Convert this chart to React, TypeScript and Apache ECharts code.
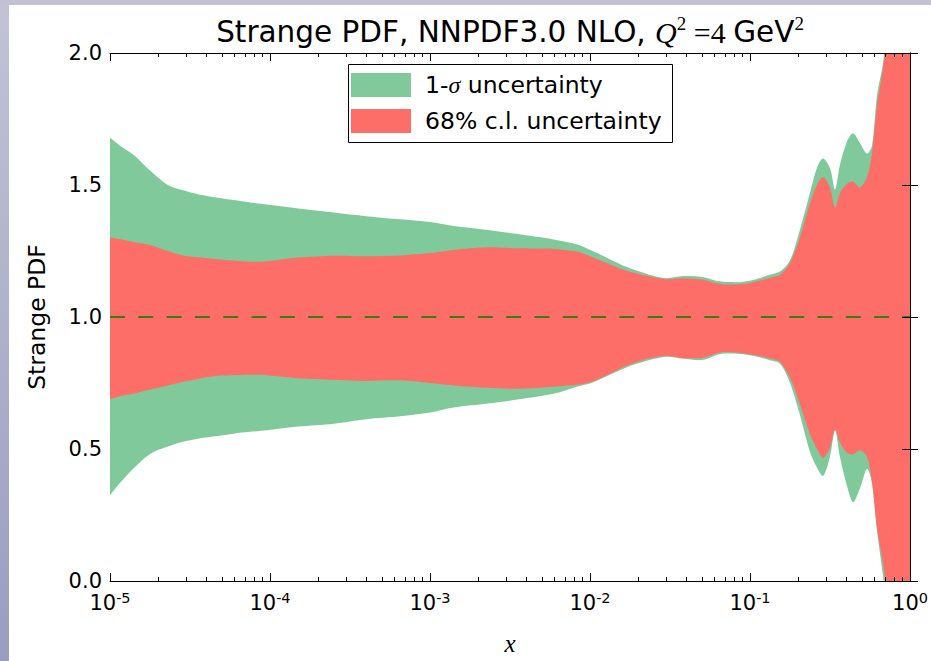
import React, { useEffect, useRef } from "react";
import * as echarts from "echarts";

// x sample points (momentum fraction)
const xValues = [
  1e-5, 1.15e-5, 1.4e-5, 1.8e-5, 2.3e-5, 2.9e-5, 3.6e-5, 4.7e-5, 5.9e-5, 7.5e-5, 9.6e-5,
  1.5e-4, 2.5e-4, 4.0e-4, 6.5e-4, 1.0e-3, 1.4e-3, 2.3e-3, 3.6e-3, 5.9e-3, 8.3e-3,
  1.04e-2, 1.33e-2, 1.7e-2, 2.3e-2, 3.0e-2, 3.8e-2, 5.1e-2, 6.5e-2, 8.7e-2,
  0.104, 0.133, 0.154, 0.178, 0.205, 0.237, 0.262, 0.286, 0.316, 0.34, 0.365,
  0.404, 0.441, 0.487, 0.539, 0.579, 0.622, 0.678, 0.708, 0.75, 1.0,
];

// 1-sigma band
const sigmaUpper = [
  1.68, 1.65, 1.615, 1.552, 1.5, 1.479, 1.464, 1.452, 1.443, 1.434, 1.426,
  1.411, 1.396, 1.382, 1.37, 1.36, 1.345, 1.33, 1.313, 1.294, 1.275,
  1.25, 1.219, 1.189, 1.162, 1.147, 1.155, 1.151, 1.135, 1.132,
  1.14, 1.16, 1.172, 1.215, 1.33, 1.47, 1.564, 1.6, 1.564, 1.483, 1.577,
  1.665, 1.696, 1.658, 1.619, 1.65, 1.84, 1.96, 2.08, 2.3, 3.5,
];
const sigmaLower = [
  0.325, 0.37, 0.426, 0.483, 0.509, 0.528, 0.54, 0.549, 0.558, 0.565, 0.571,
  0.585, 0.596, 0.613, 0.624, 0.638, 0.657, 0.672, 0.688, 0.709, 0.736,
  0.752, 0.781, 0.81, 0.835, 0.849, 0.842, 0.838, 0.86, 0.86,
  0.853, 0.836, 0.823, 0.75, 0.63, 0.49, 0.43, 0.398, 0.47, 0.57, 0.47,
  0.36, 0.298, 0.351, 0.425, 0.37, 0.19, 0.02, -0.08, -0.3, -1.5,
];

// 68% c.l. band
const clUpper = [
  1.302, 1.295, 1.284, 1.272, 1.25, 1.232, 1.226, 1.219, 1.214, 1.209, 1.211,
  1.225, 1.232, 1.23, 1.233, 1.242, 1.254, 1.264, 1.26, 1.258, 1.248,
  1.226, 1.2, 1.175, 1.155, 1.143, 1.147, 1.141, 1.125, 1.124,
  1.132, 1.148, 1.16, 1.205, 1.3, 1.43, 1.5, 1.53, 1.49, 1.415, 1.47,
  1.505, 1.513, 1.49, 1.53, 1.62, 1.8, 1.94, 2.05, 2.25, 3.4,
];
const clLower = [
  0.688, 0.7, 0.709, 0.726, 0.741, 0.755, 0.766, 0.777, 0.779, 0.781, 0.779,
  0.768, 0.762, 0.758, 0.76, 0.75, 0.741, 0.732, 0.728, 0.736, 0.743,
  0.756, 0.785, 0.816, 0.842, 0.853, 0.845, 0.846, 0.866, 0.864,
  0.857, 0.843, 0.83, 0.77, 0.67, 0.555, 0.5, 0.466, 0.505, 0.574, 0.525,
  0.485, 0.48, 0.495, 0.47, 0.375, 0.2, 0.07, -0.02, -0.2, -1.4,
];

const centralValue = 1.0;
const xMin = 1e-5;
const xMax = 1;
const yMin = 0;
const yMax = 2;
const yInterval = 0.5;
const decadeExponents = [-5, -4, -3, -2, -1];
const minorMultipliers = [2, 3, 4, 5, 6, 7, 8, 9];

const legendNames = ["1-\u03c3 uncertainty", "68% c.l. uncertainty"];
const GREEN = "#80c99b";
const RED = "#fe6e68";
const FONT = "DejaVu Sans";

const minorTickValues: number[] = [];
decadeExponents.forEach((e) => minorMultipliers.forEach((m) => minorTickValues.push(Math.log10(m) + e)));

function bandRenderer(upper: number[], lower: number[], color: string) {
  return (params: any, api: any) => {
    if (params.dataIndex !== 0) return null;
    const n = xValues.length;
    const top: number[][] = xValues.map((x, i) => api.coord([x, upper[i]]));
    const bottom: number[][] = xValues.map((x, i) => api.coord([x, lower[i]])).reverse();
    // corner points repeated so the smoothing keeps the end edges straight
    const pts = [top[0], ...top, top[n - 1], bottom[0], ...bottom, bottom[n - 1]];
    return {
      type: "polygon",
      shape: { points: pts, smooth: 0.3 },
      style: { fill: color },
    };
  };
}

export default function App() {
  const ref = useRef<HTMLDivElement>(null);
  useEffect(() => {
    const chart = echarts.init(ref.current!, null, { renderer: "svg" });
    const axisLineStyle = { color: "#000", width: 1 };
    const option: any = {
      animation: false,
      textStyle: { fontFamily: FONT },
      grid: { left: 110, right: 21, top: 53, bottom: 78, containLabel: false },
      legend: {
        data: legendNames,
        orient: "vertical",
        left: 351,
        top: 73,
        padding: 0,
        itemWidth: 60,
        itemHeight: 24,
        itemGap: 12,
        icon: "rect",
        selectedMode: false,
        formatter: (name: string) =>
          name === legendNames[0] ? "1-{g|\u03c3} uncertainty" : name,
        textStyle: {
          fontSize: 23.5,
          color: "#000",
          fontFamily: FONT,
          padding: [0, 0, 0, 9],
          rich: {
            g: { fontSize: 24, fontFamily: "Liberation Serif", fontStyle: "italic", color: "#000" },
          },
        },
      },
      graphic: [
        {
          type: "rect",
          z: 0,
          shape: { x: 0, y: 0, width: 9, height: 661 },
          style: {
            fill: new echarts.graphic.LinearGradient(0, 0, 0, 1, [
              { offset: 0, color: "#c3c3d5" },
              { offset: 1, color: "#9b9dc0" },
            ]),
          },
        },
        { type: "rect", z: 0, shape: { x: 0, y: 0, width: 931, height: 5 }, style: { fill: "#c1c1d3" } },
        {
          type: "rect",
          z: 3,
          shape: { x: 348.5, y: 64.5, width: 324, height: 78 },
          style: { fill: "#fff", stroke: "#000", lineWidth: 1 },
        },
        {
          type: "text",
          z: 5,
          x: 510,
          y: 32,
          style: {
            text: "{n|Strange PDF, NNPDF3.0 NLO, }{q|Q}{s|2}{m| =4 }{n|GeV}{s|2}",
            align: "center",
            verticalAlign: "middle",
            rich: {
              n: { fontSize: 29.5, fontFamily: FONT, fill: "#000", lineHeight: 36 },
              q: { fontSize: 30, fontFamily: "Liberation Serif", fontStyle: "italic", fill: "#000", lineHeight: 36 },
              m: { fontSize: 30, fontFamily: "Liberation Serif", fill: "#000", lineHeight: 36 },
              s: { fontSize: 19, fontFamily: "Liberation Serif", fill: "#000", verticalAlign: "top" },
            },
          },
        },
      ],
      xAxis: [
        {
          type: "log",
          logBase: 10,
          min: xMin,
          max: xMax,
          position: "bottom",
          z: 5,
          name: "x",
          nameLocation: "middle",
          nameGap: 50,
          nameTextStyle: { fontFamily: "Liberation Serif", fontStyle: "italic", fontSize: 25, color: "#000" },
          axisLine: { show: true, lineStyle: axisLineStyle },
          axisTick: { show: true, inside: true, length: 8, lineStyle: axisLineStyle },
          splitLine: { show: false },
          minorTick: { show: false },
          axisLabel: {
            margin: 9,
            color: "#000",
            formatter: (v: number) => `{b|10}{s|${Math.round(Math.log10(v))}}`,
            rich: {
              b: { fontSize: 21, fontFamily: FONT, color: "#000", lineHeight: 26 },
              s: { fontSize: 14.5, fontFamily: FONT, color: "#000", verticalAlign: "top" },
            },
          },
        },
        {
          type: "value",
          min: -5,
          max: 0,
          position: "bottom",
          z: 5,
          axisLine: { show: false },
          axisLabel: { show: false },
          splitLine: { show: false },
          axisTick: { show: true, inside: true, length: 4, lineStyle: axisLineStyle, customValues: minorTickValues },
        },
        {
          type: "log",
          logBase: 10,
          min: xMin,
          max: xMax,
          position: "top",
          z: 5,
          axisLine: { show: true, lineStyle: axisLineStyle },
          axisTick: { show: true, inside: true, length: 8, lineStyle: axisLineStyle },
          axisLabel: { show: false },
          splitLine: { show: false },
        },
        {
          type: "value",
          min: -5,
          max: 0,
          position: "top",
          z: 5,
          axisLine: { show: false },
          axisLabel: { show: false },
          splitLine: { show: false },
          axisTick: { show: true, inside: true, length: 4, lineStyle: axisLineStyle, customValues: minorTickValues },
        },
      ],
      yAxis: [
        {
          type: "value",
          min: yMin,
          max: yMax,
          interval: yInterval,
          position: "left",
          z: 5,
          name: "Strange PDF",
          nameLocation: "middle",
          nameGap: 61,
          nameTextStyle: { fontSize: 23.5, fontFamily: FONT, color: "#000" },
          axisLine: { show: true, lineStyle: axisLineStyle },
          axisTick: { show: true, inside: true, length: 8, lineStyle: axisLineStyle },
          splitLine: { show: false },
          axisLabel: { margin: 8, fontSize: 21, color: "#000", fontFamily: FONT, formatter: (v: number) => v.toFixed(1) },
        },
        {
          type: "value",
          min: yMin,
          max: yMax,
          interval: yInterval,
          position: "right",
          z: 5,
          axisLine: { show: true, lineStyle: axisLineStyle },
          axisTick: { show: true, inside: true, length: 8, lineStyle: axisLineStyle },
          splitLine: { show: false },
          axisLabel: { show: false },
        },
      ],
      series: [
        {
          name: legendNames[0],
          type: "custom",
          xAxisIndex: 0,
          yAxisIndex: 0,
          clip: true,
          z: 2,
          itemStyle: { color: GREEN },
          encode: { x: 0, y: [1, 2] },
          data: xValues.map((x, i) => [x, sigmaUpper[i], sigmaLower[i]]),
          renderItem: bandRenderer(sigmaUpper, sigmaLower, GREEN),
        },
        {
          name: legendNames[1],
          type: "custom",
          xAxisIndex: 0,
          yAxisIndex: 0,
          clip: true,
          z: 2,
          itemStyle: { color: RED },
          encode: { x: 0, y: [1, 2] },
          data: xValues.map((x, i) => [x, clUpper[i], clLower[i]]),
          renderItem: bandRenderer(clUpper, clLower, RED),
        },
        {
          name: "central",
          type: "line",
          xAxisIndex: 0,
          yAxisIndex: 0,
          z: 3,
          showSymbol: false,
          symbol: "none",
          lineStyle: { color: "#3d7a12", width: 2, type: [15, 13.3] },
          data: [
            [xMin, centralValue],
            [xMax, centralValue],
          ],
        },
      ],
    };
    chart.setOption(option);
    return () => chart.dispose();
  }, []);
  return (
    <div
      ref={ref}
      style={{ position: "fixed", left: 0, top: 0, width: 931, height: 661, background: "#fff" }}
    />
  );
}
